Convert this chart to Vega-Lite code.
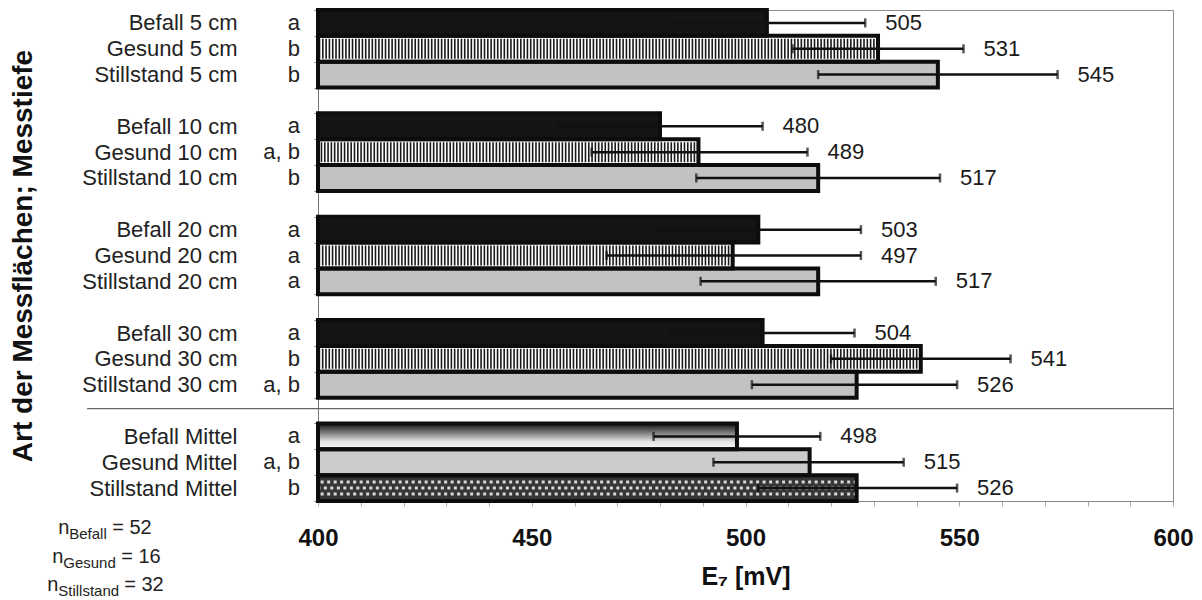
{
  "$schema": "https://vega.github.io/schema/vega-lite/v6.json",
  "width": 855,
  "height": 491,
  "autosize": {"type": "none"},
  "padding": {"left": 318, "top": 10, "right": 29, "bottom": 99},
  "background": "white",
  "config": {
    "font": "Liberation Sans",
    "view": {"stroke": "#8c8c8c", "strokeWidth": 1},
    "text": {"font": "Liberation Sans"}
  },
  "datasets": {
    "werte": [
      {"Messflaeche": "Befall 5 cm", "Typ": "Befall", "Tiefe": "5 cm", "sig": "a", "mean": 505, "lo": 482, "hi": 528},
      {"Messflaeche": "Gesund 5 cm", "Typ": "Gesund", "Tiefe": "5 cm", "sig": "b", "mean": 531, "lo": 511, "hi": 551},
      {"Messflaeche": "Stillstand 5 cm", "Typ": "Stillstand", "Tiefe": "5 cm", "sig": "b", "mean": 545, "lo": 517, "hi": 573},
      {"Messflaeche": "Befall 10 cm", "Typ": "Befall", "Tiefe": "10 cm", "sig": "a", "mean": 480, "lo": 456, "hi": 504},
      {"Messflaeche": "Gesund 10 cm", "Typ": "Gesund", "Tiefe": "10 cm", "sig": "a, b", "mean": 489, "lo": 464, "hi": 514.5},
      {"Messflaeche": "Stillstand 10 cm", "Typ": "Stillstand", "Tiefe": "10 cm", "sig": "b", "mean": 517, "lo": 488.5, "hi": 545.5},
      {"Messflaeche": "Befall 20 cm", "Typ": "Befall", "Tiefe": "20 cm", "sig": "a", "mean": 503, "lo": 479, "hi": 527},
      {"Messflaeche": "Gesund 20 cm", "Typ": "Gesund", "Tiefe": "20 cm", "sig": "a", "mean": 497, "lo": 467.5, "hi": 527},
      {"Messflaeche": "Stillstand 20 cm", "Typ": "Stillstand", "Tiefe": "20 cm", "sig": "a", "mean": 517, "lo": 489.5, "hi": 544.5},
      {"Messflaeche": "Befall 30 cm", "Typ": "Befall", "Tiefe": "30 cm", "sig": "a", "mean": 504, "lo": 482.5, "hi": 525.5},
      {"Messflaeche": "Gesund 30 cm", "Typ": "Gesund", "Tiefe": "30 cm", "sig": "b", "mean": 541, "lo": 520, "hi": 562},
      {"Messflaeche": "Stillstand 30 cm", "Typ": "Stillstand", "Tiefe": "30 cm", "sig": "a, b", "mean": 526, "lo": 501.5, "hi": 549.5},
      {"Messflaeche": "Befall Mittel", "Typ": "Befall", "Tiefe": "Mittel", "sig": "a", "mean": 498, "lo": 478.5, "hi": 517.5, "Anzahl": 52, "AnzahlText": "= 52"},
      {"Messflaeche": "Gesund Mittel", "Typ": "Gesund", "Tiefe": "Mittel", "sig": "a, b", "mean": 515, "lo": 492.5, "hi": 537, "Anzahl": 16, "AnzahlText": "= 16"},
      {"Messflaeche": "Stillstand Mittel", "Typ": "Stillstand", "Tiefe": "Mittel", "sig": "b", "mean": 526, "lo": 503, "hi": 549.5, "Anzahl": 32, "AnzahlText": "= 32"}
    ],
    "trenner": [
      {"Messflaeche": "    ", "von": 346, "bis": 600}
    ]
  },
  "data": {"name": "werte"},
  "encoding": {
    "y": {
      "field": "Messflaeche",
      "type": "nominal",
      "title": "Art der Messflächen; Messtiefe",
      "scale": {
        "domain": ["Befall 5 cm", "Gesund 5 cm", "Stillstand 5 cm", " ", "Befall 10 cm", "Gesund 10 cm", "Stillstand 10 cm", "  ", "Befall 20 cm", "Gesund 20 cm", "Stillstand 20 cm", "   ", "Befall 30 cm", "Gesund 30 cm", "Stillstand 30 cm", "    ", "Befall Mittel", "Gesund Mittel", "Stillstand Mittel"],
        "paddingInner": 0,
        "paddingOuter": 0
      },
      "axis": {
        "titleFontSize": 28,
        "titleFontWeight": "bold",
        "titleColor": "#111",
        "titlePadding": 81,
        "labelFontSize": 22,
        "labelColor": "#222",
        "labelPadding": 77,
        "labelLimit": 400,
        "tickBand": "extent",
        "tickSize": 4,
        "tickColor": "#777",
        "domainColor": "#777"
      }
    },
    "x": {
      "field": "mean",
      "type": "quantitative",
      "title": "E₇ [mV]",
      "scale": {"domain": [400, 600], "nice": false, "zero": false},
      "axis": {
        "values": [400, 410, 420, 430, 440, 450, 460, 470, 480, 490, 500, 510, 520, 530, 540, 550, 560, 570, 580, 590, 600],
        "labelExpr": "datum.value % 50 === 0 ? datum.label : ''",
        "labelOverlap": false,
        "labelFlush": false,
        "labelFontSize": 24,
        "labelFontWeight": "bold",
        "labelColor": "#111",
        "labelPadding": 20,
        "tickSize": 5,
        "tickColor": "#aaa",
        "domainColor": "#888",
        "grid": false,
        "titleFontSize": 25,
        "titleFontWeight": "bold",
        "titleColor": "#111",
        "titlePadding": 14
      }
    }
  },
  "layer": [
    {
      "transform": [{"filter": "datum.Typ === 'Befall' && datum.Tiefe !== 'Mittel'"}],
      "mark": {"type": "bar", "fill": "#141414", "strokeWidth": 0},
      "encoding": {"x2": {"datum": 400}}
    },
    {
      "transform": [{"filter": "datum.Typ === 'Gesund' && datum.Tiefe !== 'Mittel'"}],
      "mark": {"type": "bar", "fill": "#ffffff", "strokeWidth": 0},
      "encoding": {"x2": {"datum": 400}}
    },
    {
      "transform": [{"filter": "datum.Typ === 'Gesund' && datum.Tiefe !== 'Mittel'"}],
      "mark": {"type": "rule", "stroke": "#1a1a1a", "strokeWidth": 20, "strokeDash": [1.6, 1.7]},
      "encoding": {"x2": {"datum": 400}}
    },
    {
      "transform": [{"filter": "datum.Typ === 'Stillstand' && datum.Tiefe !== 'Mittel'"}],
      "mark": {"type": "bar", "fill": "#c1c2c4", "strokeWidth": 0},
      "encoding": {"x2": {"datum": 400}}
    },
    {
      "transform": [{"filter": "datum.Typ === 'Befall' && datum.Tiefe === 'Mittel'"}],
      "mark": {
        "type": "bar",
        "strokeWidth": 0,
        "fill": {
          "gradient": "linear", "x1": 0, "y1": 0, "x2": 0, "y2": 1,
          "stops": [
            {"offset": 0, "color": "#111111"},
            {"offset": 0.3, "color": "#6a6a6a"},
            {"offset": 0.7, "color": "#e4e4e4"},
            {"offset": 1, "color": "#fafafa"}
          ]
        }
      },
      "encoding": {"x2": {"datum": 400}}
    },
    {
      "transform": [{"filter": "datum.Typ === 'Gesund' && datum.Tiefe === 'Mittel'"}],
      "mark": {"type": "bar", "fill": "#cbcbcb", "strokeWidth": 0},
      "encoding": {"x2": {"datum": 400}}
    },
    {
      "transform": [{"filter": "datum.Typ === 'Stillstand' && datum.Tiefe === 'Mittel'"}],
      "mark": {"type": "bar", "fill": "#363636", "strokeWidth": 0},
      "encoding": {"x2": {"datum": 400}}
    },
    {
      "transform": [{"filter": "datum.Typ === 'Stillstand' && datum.Tiefe === 'Mittel'"}],
      "mark": {"type": "rule", "stroke": "#d8d8d8", "strokeWidth": 3, "strokeDash": [3, 3.5], "yOffset": -6},
      "encoding": {"x2": {"datum": 400}}
    },
    {
      "transform": [{"filter": "datum.Typ === 'Stillstand' && datum.Tiefe === 'Mittel'"}],
      "mark": {"type": "rule", "stroke": "#d8d8d8", "strokeWidth": 3, "strokeDash": [3, 3.5], "strokeDashOffset": 3.2},
      "encoding": {"x2": {"datum": 400}}
    },
    {
      "transform": [{"filter": "datum.Typ === 'Stillstand' && datum.Tiefe === 'Mittel'"}],
      "mark": {"type": "rule", "stroke": "#d8d8d8", "strokeWidth": 3, "strokeDash": [3, 3.5], "yOffset": 6},
      "encoding": {"x2": {"datum": 400}}
    },
    {
      "mark": {"type": "bar", "fill": null, "fillOpacity": 0, "stroke": "#0d0d0d", "strokeWidth": 4},
      "encoding": {"x2": {"datum": 400}}
    },
    {
      "mark": {"type": "rule", "stroke": "#111", "strokeWidth": 2.5},
      "encoding": {
        "x": {"field": "lo", "type": "quantitative", "title": "E₇ [mV]", "scale": {"domain": [400, 600], "nice": false, "zero": false}},
        "x2": {"field": "hi"}
      }
    },
    {
      "mark": {"type": "tick", "color": "#111", "size": 9, "thickness": 2.5, "orient": "vertical"},
      "encoding": {
        "x": {"field": "lo", "type": "quantitative", "title": "E₇ [mV]", "scale": {"domain": [400, 600], "nice": false, "zero": false}}
      }
    },
    {
      "mark": {"type": "tick", "color": "#111", "size": 9, "thickness": 2.5, "orient": "vertical"},
      "encoding": {
        "x": {"field": "hi", "type": "quantitative", "title": "E₇ [mV]", "scale": {"domain": [400, 600], "nice": false, "zero": false}}
      }
    },
    {
      "mark": {"type": "text", "align": "left", "baseline": "middle", "dx": 20, "fontSize": 22, "color": "#1a1a1a"},
      "encoding": {
        "x": {"field": "hi", "type": "quantitative", "title": "E₇ [mV]", "scale": {"domain": [400, 600], "nice": false, "zero": false}},
        "text": {"field": "mean", "type": "quantitative", "format": "d"}
      }
    },
    {
      "mark": {"type": "text", "align": "right", "baseline": "middle", "fontSize": 22, "color": "#222"},
      "encoding": {
        "x": {"datum": 395.8, "type": "quantitative", "title": "E₇ [mV]", "scale": {"domain": [400, 600], "nice": false, "zero": false}},
        "text": {"field": "sig", "type": "nominal"}
      }
    },
    {
      "data": {"name": "trenner"},
      "mark": {"type": "rule", "stroke": "#666", "strokeWidth": 1.2, "yOffset": -2},
      "encoding": {
        "x": {"field": "von", "type": "quantitative", "title": "E₇ [mV]", "scale": {"domain": [400, 600], "nice": false, "zero": false}},
        "x2": {"field": "bis"}
      }
    },
    {
      "transform": [{"filter": "datum.Messflaeche === 'Befall Mittel'"}],
      "mark": {"type": "text", "align": "left", "baseline": "middle", "fontSize": 20, "color": "#222", "dx": -46, "dy": 92},
      "encoding": {
        "x": {"datum": 350, "type": "quantitative", "title": "E₇ [mV]", "scale": {"domain": [400, 600], "nice": false, "zero": false}},
        "text": {"value": "n"}
      }
    },
    {
      "transform": [{"filter": "datum.Messflaeche === 'Befall Mittel'"}],
      "mark": {"type": "text", "align": "left", "baseline": "middle", "fontSize": 15, "color": "#222", "dx": -35, "dy": 98},
      "encoding": {
        "x": {"datum": 350, "type": "quantitative", "title": "E₇ [mV]", "scale": {"domain": [400, 600], "nice": false, "zero": false}},
        "text": {"field": "Typ", "type": "nominal"}
      }
    },
    {
      "transform": [{"filter": "datum.Messflaeche === 'Befall Mittel'"}],
      "mark": {"type": "text", "align": "left", "baseline": "middle", "fontSize": 20, "color": "#222", "dx": 8, "dy": 92},
      "encoding": {
        "x": {"datum": 350, "type": "quantitative", "title": "E₇ [mV]", "scale": {"domain": [400, 600], "nice": false, "zero": false}},
        "text": {"field": "AnzahlText", "type": "nominal"}
      }
    },
    {
      "transform": [{"filter": "datum.Messflaeche === 'Gesund Mittel'"}],
      "mark": {"type": "text", "align": "left", "baseline": "middle", "fontSize": 20, "color": "#222", "dx": -52, "dy": 95},
      "encoding": {
        "x": {"datum": 350, "type": "quantitative", "title": "E₇ [mV]", "scale": {"domain": [400, 600], "nice": false, "zero": false}},
        "text": {"value": "n"}
      }
    },
    {
      "transform": [{"filter": "datum.Messflaeche === 'Gesund Mittel'"}],
      "mark": {"type": "text", "align": "left", "baseline": "middle", "fontSize": 15, "color": "#222", "dx": -41, "dy": 101},
      "encoding": {
        "x": {"datum": 350, "type": "quantitative", "title": "E₇ [mV]", "scale": {"domain": [400, 600], "nice": false, "zero": false}},
        "text": {"field": "Typ", "type": "nominal"}
      }
    },
    {
      "transform": [{"filter": "datum.Messflaeche === 'Gesund Mittel'"}],
      "mark": {"type": "text", "align": "left", "baseline": "middle", "fontSize": 20, "color": "#222", "dx": 17, "dy": 95},
      "encoding": {
        "x": {"datum": 350, "type": "quantitative", "title": "E₇ [mV]", "scale": {"domain": [400, 600], "nice": false, "zero": false}},
        "text": {"field": "AnzahlText", "type": "nominal"}
      }
    },
    {
      "transform": [{"filter": "datum.Messflaeche === 'Stillstand Mittel'"}],
      "mark": {"type": "text", "align": "left", "baseline": "middle", "fontSize": 20, "color": "#222", "dx": -57, "dy": 97},
      "encoding": {
        "x": {"datum": 350, "type": "quantitative", "title": "E₇ [mV]", "scale": {"domain": [400, 600], "nice": false, "zero": false}},
        "text": {"value": "n"}
      }
    },
    {
      "transform": [{"filter": "datum.Messflaeche === 'Stillstand Mittel'"}],
      "mark": {"type": "text", "align": "left", "baseline": "middle", "fontSize": 15, "color": "#222", "dx": -46, "dy": 103},
      "encoding": {
        "x": {"datum": 350, "type": "quantitative", "title": "E₇ [mV]", "scale": {"domain": [400, 600], "nice": false, "zero": false}},
        "text": {"field": "Typ", "type": "nominal"}
      }
    },
    {
      "transform": [{"filter": "datum.Messflaeche === 'Stillstand Mittel'"}],
      "mark": {"type": "text", "align": "left", "baseline": "middle", "fontSize": 20, "color": "#222", "dx": 20, "dy": 97},
      "encoding": {
        "x": {"datum": 350, "type": "quantitative", "title": "E₇ [mV]", "scale": {"domain": [400, 600], "nice": false, "zero": false}},
        "text": {"field": "AnzahlText", "type": "nominal"}
      }
    }
  ]
}
